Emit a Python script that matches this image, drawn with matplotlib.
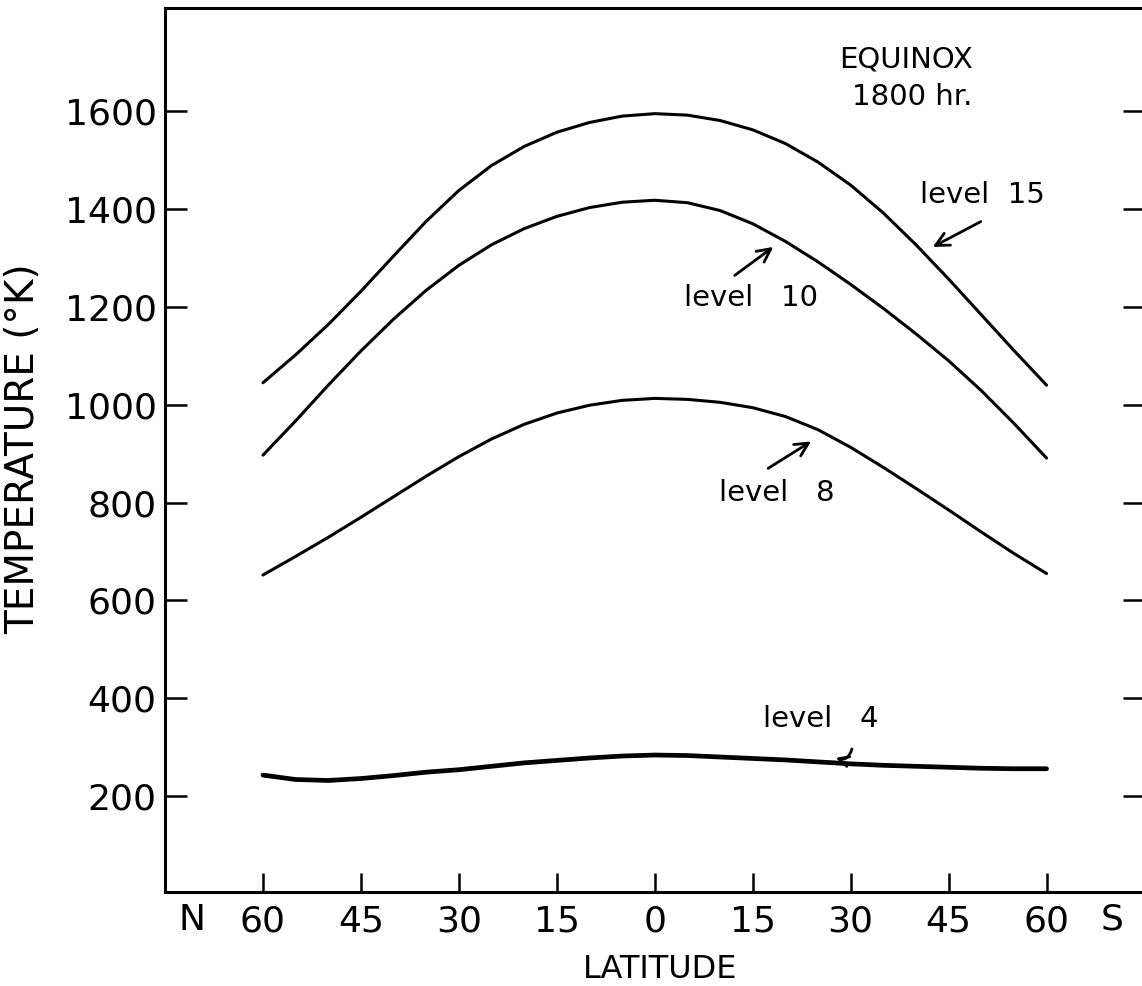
import numpy as np
from matplotlib import pyplot as plt

# latitude grid, N negative / S positive
lat = [-60, -55, -50, -45, -40, -35, -30, -25, -20, -15, -10, -5, 0,
       5, 10, 15, 20, 25, 30, 35, 40, 45, 50, 55, 60]

level_15 = [1045, 1102, 1164, 1232, 1304, 1375, 1438, 1489, 1528, 1557, 1577, 1590, 1595,
            1592, 1581, 1562, 1534, 1496, 1449, 1392, 1327, 1257, 1184, 1111, 1040]
level_10 = [897, 967, 1040, 1110, 1175, 1234, 1285, 1327, 1360, 1385, 1403, 1414, 1418,
            1413, 1397, 1370, 1334, 1292, 1246, 1197, 1145, 1090, 1029, 962, 891]
level_8 = [652, 690, 729, 770, 812, 854, 894, 930, 960, 983, 999, 1009, 1013,
           1011, 1005, 994, 976, 949, 913, 872, 829, 785, 740, 696, 655]
level_4 = [243, 234, 232, 236, 242, 249, 254, 261, 268, 273, 278, 282, 284,
           283, 280, 277, 274, 270, 266, 263, 261, 259, 257, 256, 256]

xticks = [-60, -45, -30, -15, 0, 15, 30, 45, 60]
xticklabels = ['60', '45', '30', '15', '0', '15', '30', '45', '60']
yticks = [200, 400, 600, 800, 1000, 1200, 1400, 1600]

plt.rcParams['font.family'] = 'DejaVu Sans'

fig = plt.figure(figsize=(11.42, 9.86), dpi=100)
ax = fig.add_axes([0.1445, 0.0958, 0.8577, 0.8956])

for series, w in [(level_15, 2.2), (level_10, 2.2), (level_8, 2.2), (level_4, 3.4)]:
    ax.plot(lat, series, color='black', lw=w, solid_capstyle='round',
            solid_joinstyle='round')

ax.set_xlim(-75, 75)
ax.set_ylim(5, 1810)

for s in ax.spines.values():
    s.set_linewidth(2.2)

ax.set_xticks(xticks)
ax.set_xticklabels(xticklabels)
ax.set_yticks(yticks)
ax.tick_params(axis='x', direction='in', length=14, width=1.8, pad=9, labelsize=26)
ax.tick_params(axis='y', direction='in', length=16, width=1.8, pad=6, labelsize=26,
               right=True)

# hemisphere markers next to the latitude ticks
ax.text(-70.9, -0.032, 'N', transform=ax.get_xaxis_transform(), ha='center', va='center',
        fontsize=26)
ax.text(70.0, -0.032, 'S', transform=ax.get_xaxis_transform(), ha='center', va='center',
        fontsize=26)

ax.set_xlabel('LATITUDE', fontsize=23)
ax.xaxis.set_label_coords(0.5055, -0.071)
ax.set_ylabel('TEMPERATURE (°K)', fontsize=28)
ax.yaxis.set_label_coords(-0.1256, 0.502)

ax.text(38.5, 1706, 'EQUINOX', ha='center', va='center', fontsize=21)
ax.text(39.4, 1629, '1800 hr.', ha='center', va='center', fontsize=21)

arrow = dict(arrowstyle='->', color='black', lw=2, mutation_scale=24)

ax.text(50.2, 1429, 'level  15', ha='center', va='center', fontsize=21)
ax.annotate('', xy=(42.2, 1320), xytext=(50.3, 1377), arrowprops=arrow)

ax.text(14.7, 1218, 'level   10', ha='center', va='center', fontsize=21)
ax.annotate('', xy=(18.5, 1326), xytext=(11.9, 1261), arrowprops=arrow)

ax.text(18.7, 820, 'level   8', ha='center', va='center', fontsize=21)
ax.annotate('', xy=(24.3, 928), xytext=(17.0, 867), arrowprops=arrow)

ax.text(25.4, 358, 'level   4', ha='center', va='center', fontsize=21)
ax.annotate('', xy=(27.3, 280), xytext=(30.3, 302),
            arrowprops=dict(arrowstyle='->', color='black', lw=2, mutation_scale=18,
                            connectionstyle='arc3,rad=-0.6'))

plt.savefig('out.png')
